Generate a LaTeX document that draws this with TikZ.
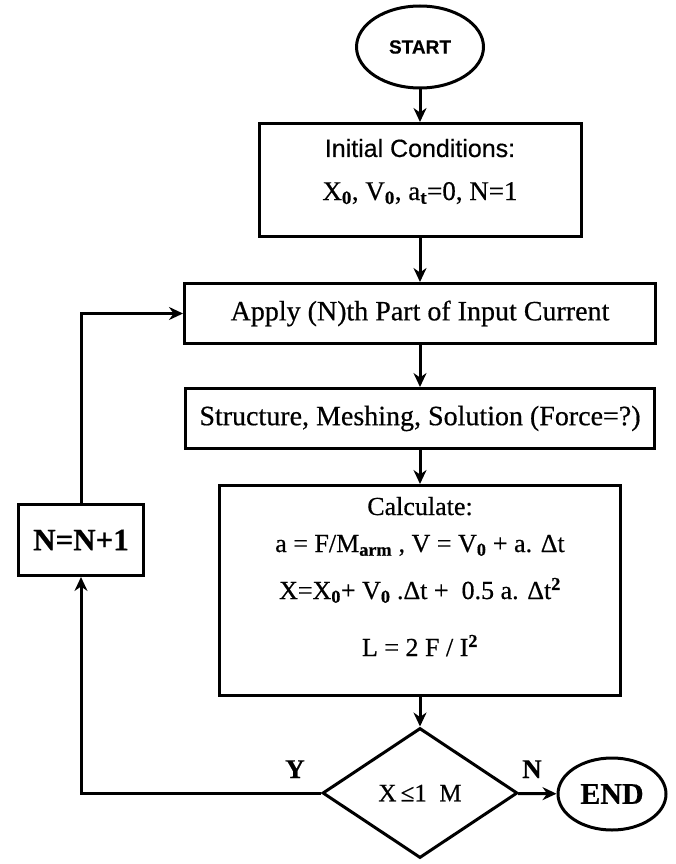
\documentclass[tikz,border=0pt]{standalone}
\usepackage{fontspec}
\setmainfont{Liberation Serif}[FakeBold=0.5]
\setsansfont{Liberation Sans}[FakeBold=0.4]
\usetikzlibrary{shapes.geometric,arrows.meta}
\newcommand{\lowix}[1]{\textsubscript{\textbf{#1}}}
\newcommand{\powix}[1]{\textsuperscript{\textbf{#1}}}
\tikzset{
  flow/.style={line width=3pt,-{Stealth[length=14pt,width=13pt]}},
  block/.style={draw,line width=3pt,rectangle,inner sep=0pt},
  term/.style={draw,line width=3pt,ellipse,inner sep=0pt},
  txt/.style={anchor=base,inner sep=0pt,font=\fontsize{27}{32}\selectfont},
}
\begin{document}
\begin{tikzpicture}[x=1pt,y=-1pt]
\useasboundingbox (0,0) rectangle (676,864);
% main column
\node[term,minimum width=127pt,minimum height=82pt,font=\sffamily\bfseries\fontsize{19}{22}\selectfont] (start) at (420,47) {START};
\node[block,minimum width=322pt,minimum height=113pt] (init) at (420,180) {};
\node[txt,font=\sffamily\fontsize{25}{30}\selectfont] (inithead) at (420,157) {Initial Conditions:};
\node[txt] (initvals) at (420,200) {X\lowix{0}, V\lowix{0}, a\lowix{t}=0, N=1};
\node[block,minimum width=471pt,minimum height=60pt,font=\fontsize{28}{32}\selectfont] (apply) at (420,313.5) {Apply (N)th Part of Input Current};
\node[block,minimum width=469pt,minimum height=60pt,font=\fontsize{28}{32}\selectfont] (struct) at (420,418.5) {Structure, Meshing, Solution (Force=?)};
\node[block,minimum width=401pt,minimum height=210pt] (calc) at (420,590.5) {};
\node[txt,font=\fontsize{26}{31}\selectfont] (calchead) at (420,515) {Calculate:};
\node[txt,font=\fontsize{26}{31}\selectfont] (calcacc) at (420,552) {a = F/M\lowix{arm} , V = V\lowix{0} + a. Δt};
\node[txt,font=\fontsize{26}{31}\selectfont] (calcpos) at (420,599) {X=X\lowix{0}+ V\lowix{0} .Δt + \ 0.5 a. Δt\powix{2}};
\node[txt,font=\fontsize{26}{31}\selectfont] (calcind) at (420,656) {L = 2 F / I\powix{2}};
\node[draw,line width=3pt,diamond,inner sep=0pt,minimum width=195pt,minimum height=130pt,font=\fontsize{25}{30}\selectfont] (dec) at (420,793) {X\,≤1\ \ M};
\node[term,minimum width=108pt,minimum height=72pt,font=\bfseries\fontsize{30}{34}\selectfont] (endn) at (612,794) {END};
% loop back
\node[block,minimum width=125pt,minimum height=71pt,font=\bfseries\fontsize{31}{36}\selectfont] (incr) at (81,540) {N=N+1};
\node[txt,font=\bfseries\fontsize{27}{32}\selectfont] (yes) at (295,778) {Y};
\node[txt,font=\bfseries\fontsize{27}{32}\selectfont] (no) at (532,778) {N};
\draw[flow] (start) -- (init);
\draw[flow] (init) -- (apply);
\draw[flow] (apply) -- (struct);
\draw[flow] (struct) -- (calc);
\draw[flow] (calc) -- (dec);
\draw[flow] (dec) -- (endn);
\draw[flow] (dec.west) -| (incr.south);
\draw[flow] (incr.north) |- (apply.west);
\end{tikzpicture}
\end{document}
